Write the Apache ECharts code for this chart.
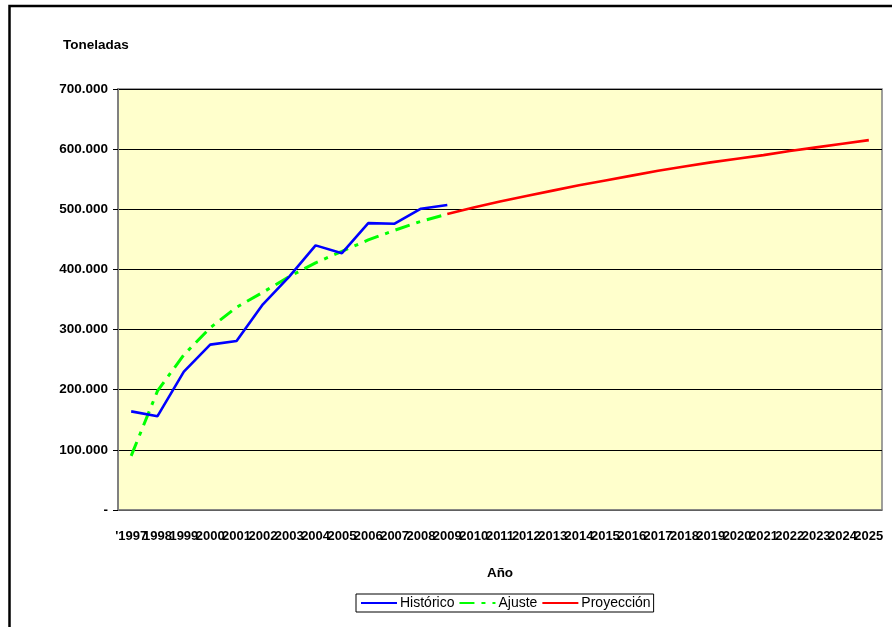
<!DOCTYPE html>
<html>
<head>
<meta charset="utf-8">
<script src="https://cdn.jsdelivr.net/npm/echarts@6/dist/echarts.min.js"></script>
<style>
  html, body { margin: 0; padding: 0; background: #fff; }
  #chart { width: 892px; height: 627px; }
</style>
</head>
<body>
<div id="chart"></div>
<script>
// Years on the category axis
const years = ["'1997", '1998', '1999', '2000', '2001', '2002', '2003', '2004', '2005', '2006',
  '2007', '2008', '2009', '2010', '2011', '2012', '2013', '2014', '2015', '2016', '2017',
  '2018', '2019', '2020', '2021', '2022', '2023', '2024', '2025'];

// Historical tonnage, 1997-2009
const historico = [164000, 156000, 230000, 275000, 281000, 342000, 388000, 440000, 427000,
  477000, 476000, 501000, 507000];

// Fitted trend, 1997-2009
const ajuste = [90000, 198000, 258000, 303000, 337000, 362000, 388000, 411000, 430000,
  449000, 465000, 480000, 492000];

// Projection, 2009-2025
const proyeccion = [492000, 503000, 513000, 522000, 531000, 540000, 548000, 556000, 564000,
  571000, 578000, 584000, 590000, 597000, 603000, 609000, 615000];

const yTicks = [0, 100000, 200000, 300000, 400000, 500000, 600000, 700000];

// Align each series to the full year axis
const pad = (arr, start) => years.map((_, i) => {
  const k = i - start;
  return k >= 0 && k < arr.length ? arr[k] : null;
});
const projStart = years.indexOf('2009');

const fmt = v => v === 0 ? '-' : String(v).replace(/\B(?=(\d{3})+(?!\d))/g, '.');
const FONT = "'Liberation Sans', Arial, sans-serif";

const chart = echarts.init(document.getElementById('chart'), null, { renderer: 'canvas' });
chart.setOption({
  animation: false,
  backgroundColor: '#ffffff',
  textStyle: { fontFamily: FONT },
  graphic: [
    { type: 'rect', shape: { x: 9.5, y: 6, width: 900, height: 640 },
      style: { fill: 'none', stroke: '#000', lineWidth: 2.5 }, silent: true },
    { type: 'text', left: 63, top: 38,
      style: { text: 'Toneladas', font: "bold 13.5px " + FONT, fill: '#000' } }
  ],
  grid: {
    left: 118, right: 10, top: 89, bottom: 117,
    show: true, backgroundColor: '#FFFFCC', borderColor: '#808080', borderWidth: 1.5
  },
  legend: {
    left: 356, top: 594,
    padding: [2, 3, 2, 4],
    itemGap: 4,
    itemWidth: 36, itemHeight: 12,
    backgroundColor: '#fff',
    borderColor: '#000', borderWidth: 1, borderRadius: 0,
    itemStyle: { opacity: 0 },
    textStyle: { fontFamily: FONT, fontSize: 14, color: '#000', padding: [0, 0, 0, -2] },
    data: ['Histórico', 'Ajuste', 'Proyección']
  },
  xAxis: {
    type: 'category',
    data: years,
    boundaryGap: true,
    name: 'Año',
    nameLocation: 'middle',
    nameGap: 56,
    nameTextStyle: { fontFamily: FONT, fontWeight: 'bold', fontSize: 13.5, color: '#000' },
    axisLine: { lineStyle: { color: '#808080', width: 1.5 } },
    axisTick: { show: false },
    axisLabel: { interval: 0, margin: 20, fontFamily: FONT, fontWeight: 'bold', fontSize: 13, color: '#000' }
  },
  yAxis: {
    type: 'value',
    min: 0, max: 700000, interval: 100000,
    axisLine: { show: true, lineStyle: { color: '#808080', width: 2 } },
    axisTick: { show: true, length: 5, lineStyle: { color: '#000' } },
    axisLabel: {
      margin: 10, fontFamily: FONT, fontWeight: 'bold', fontSize: 13.5, color: '#000',
      formatter: v => yTicks.includes(v) ? fmt(v) : ''
    },
    splitLine: { show: true, lineStyle: { color: '#000', width: 1 } }
  },
  series: [
    {
      name: 'Histórico', type: 'line', data: pad(historico, 0),
      symbol: 'none', z: 3,
      lineStyle: { color: '#0000FF', width: 2.6 }, itemStyle: { color: '#0000FF' }
    },
    {
      name: 'Ajuste', type: 'line', data: pad(ajuste, 0),
      symbol: 'none', z: 2,
      lineStyle: { color: '#00FF00', width: 3, type: [15, 7, 4, 7] }, itemStyle: { color: '#00FF00' }
    },
    {
      name: 'Proyección', type: 'line', data: pad(proyeccion, projStart),
      symbol: 'none', z: 2,
      lineStyle: { color: '#FF0000', width: 2.6 }, itemStyle: { color: '#FF0000' }
    }
  ]
});
</script>
</body>
</html>
